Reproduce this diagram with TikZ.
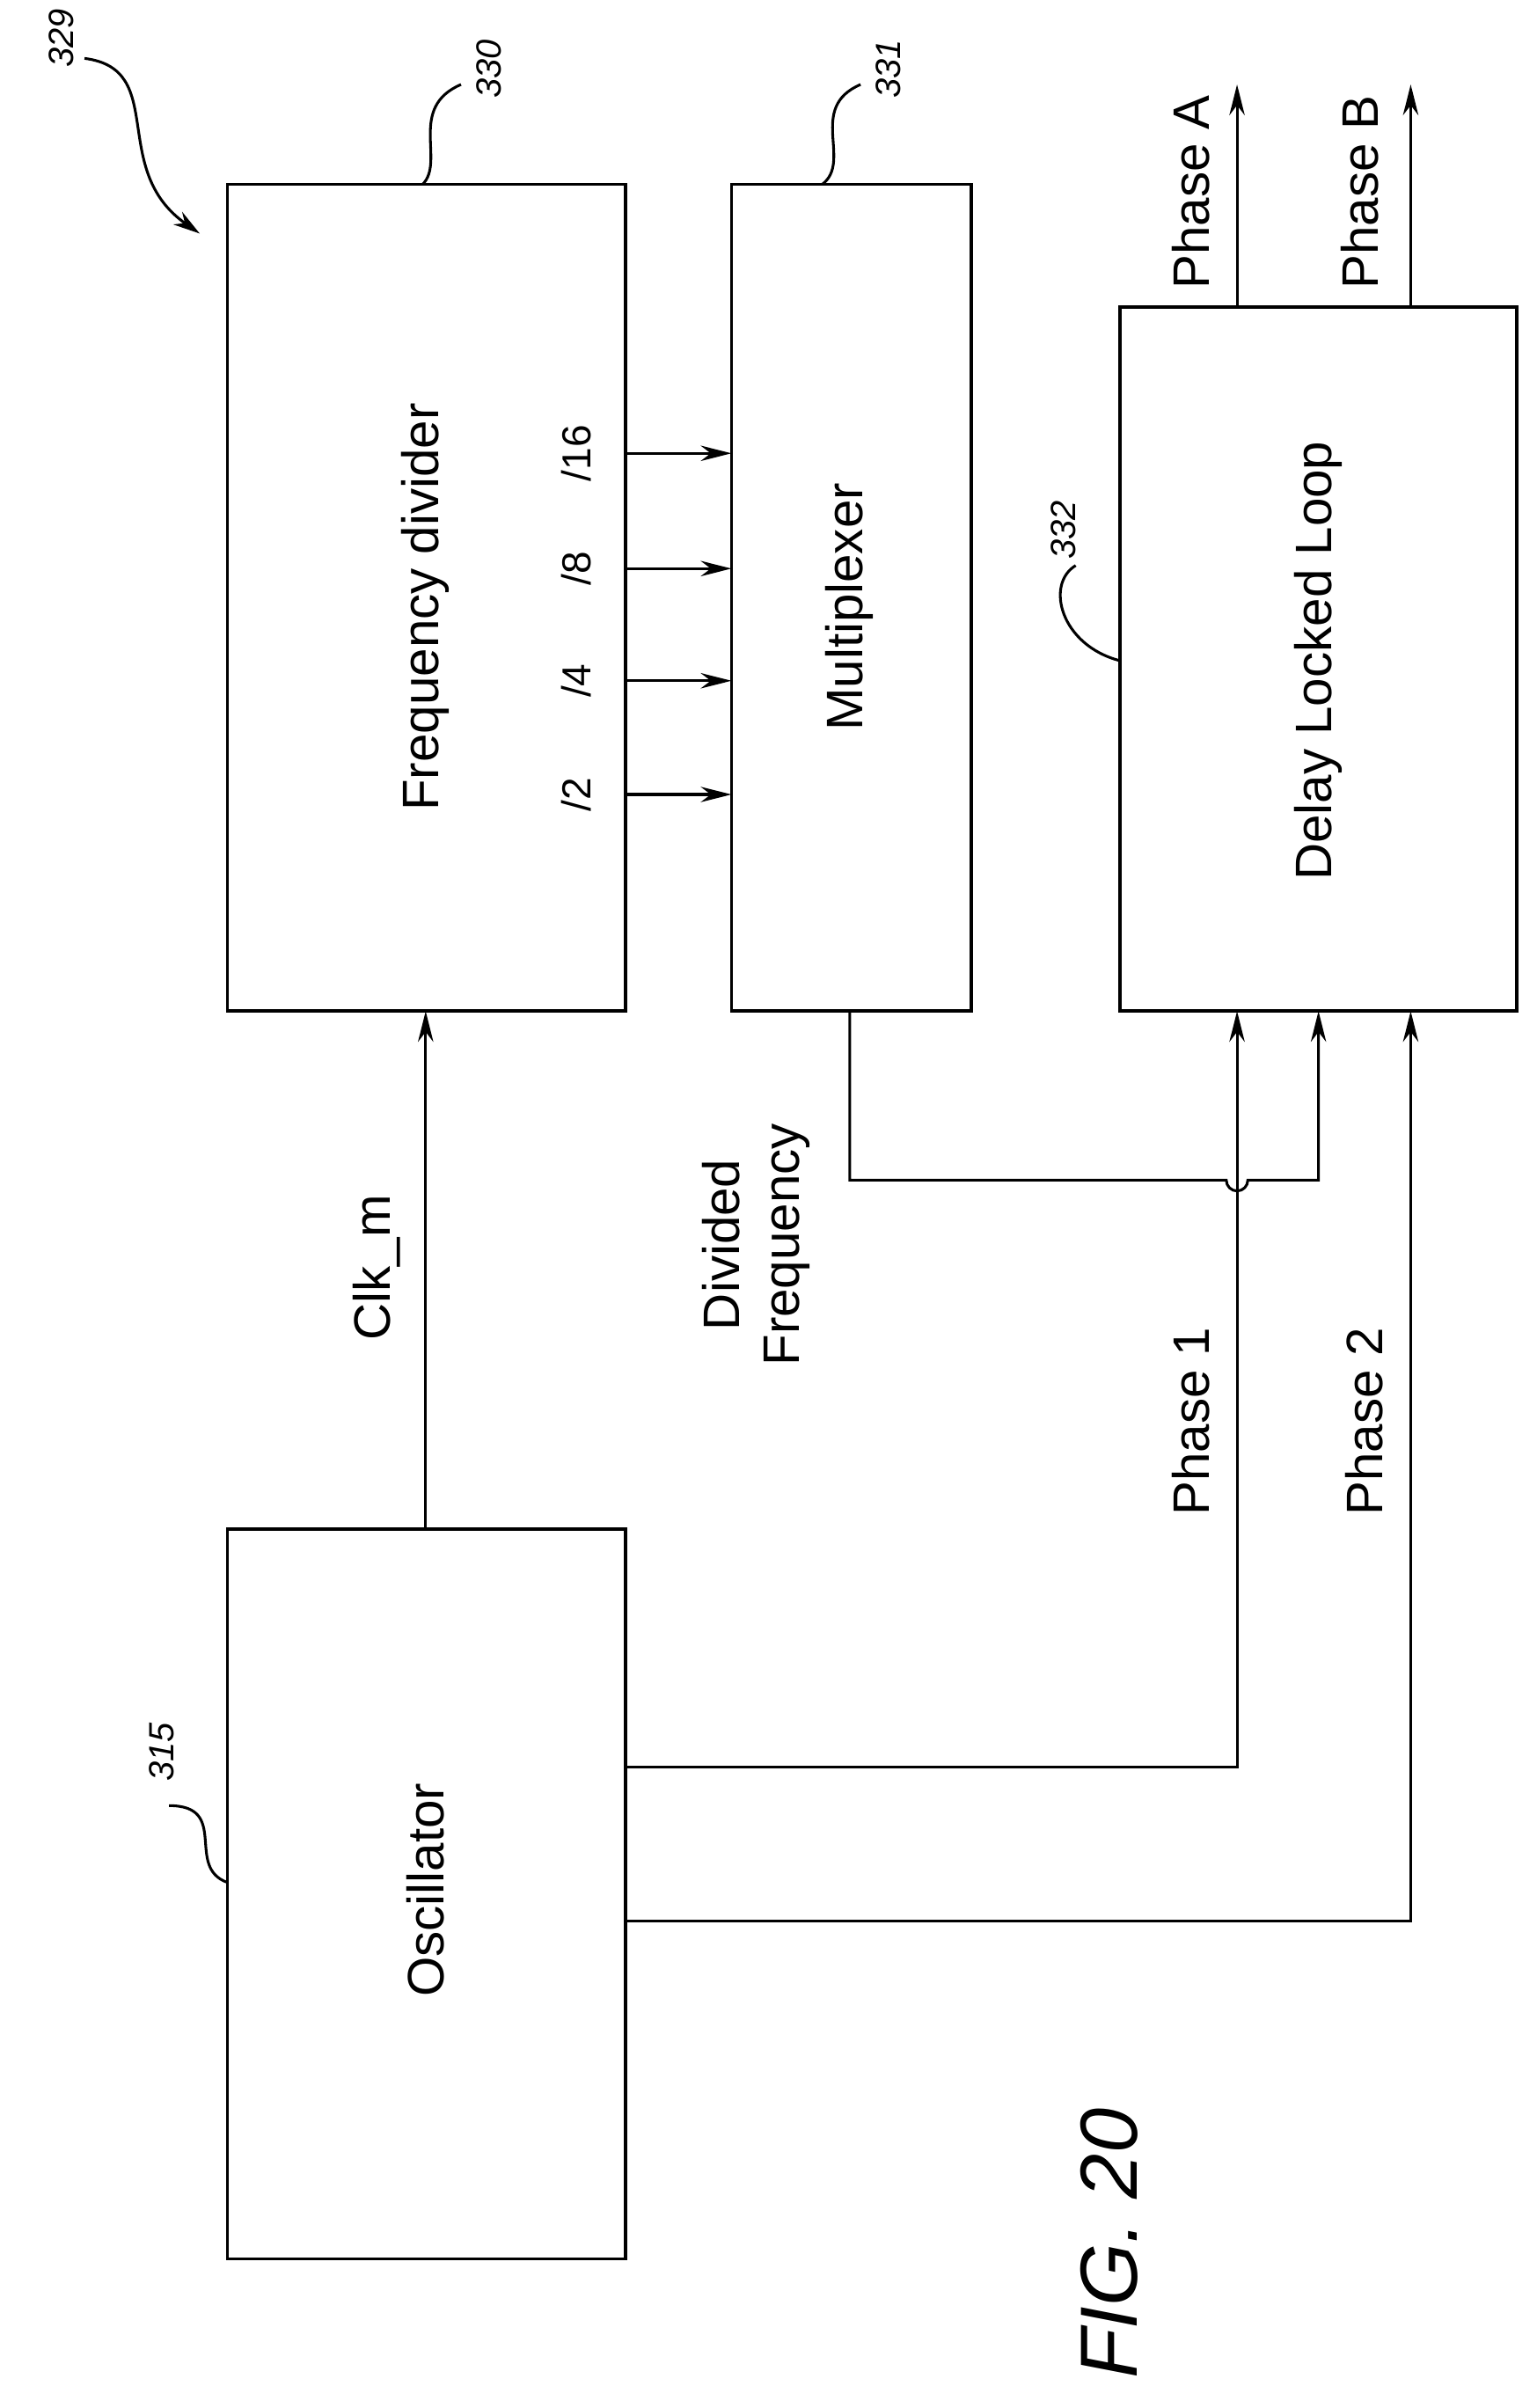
\documentclass[tikz,border=0pt]{standalone}
\usepackage{fontspec}
\setmainfont{Liberation Sans}
\usetikzlibrary{arrows.meta}
\tikzset{font={\fontsize{19pt}{22pt}\selectfont},
  blk/.style={draw,line width=1.2pt},
  sig/.style={line width=1pt,-{Stealth[length=4mm,width=2mm]}},
  lbl/.style={rotate=90},
  refn/.style={rotate=90,font={\fontsize{13pt}{15pt}\selectfont\itshape}}}
\begin{document}
\begin{tikzpicture}[x=0.02cm,y=-0.02cm]
      \useasboundingbox (0,0) rectangle (1000,1567);
      %blocks
      \draw[blk] (148,120) rectangle (407,658);
      \draw[blk] (476,120) rectangle (632,658);
      \draw[blk] (729,200) rectangle (987,658);
      \draw[blk] (148,995) rectangle (407,1470);
      \node[lbl] (fd) at (277,395) {Frequency divider};
      \node[lbl] (mux) at (553,395) {Multiplexer};
      \node[lbl] (dll) at (858,430) {Delay Locked Loop};
      \node[lbl] (osc) at (277,1230) {Oscillator};
      %divider outputs
      \foreach \y/\t in {295/{/16}, 370/{/8}, 443/{/4}, 517/{/2}} {
	\draw[sig] (407,\y) -- (476,\y);
	\node[lbl,font={\fontsize{15pt}{18pt}\selectfont}] at (375,\y) {\t};
      }
      %clock
      \draw[sig] (277,995) -- (277,658);
      \node[lbl] (clk) at (245,825) {Clk\_m};
      %phases out
      \draw[sig] (805,200) -- (805,55);
      \draw[sig] (918,200) -- (918,55);
      \node[lbl] (pa) at (775,125) {Phase A};
      \node[lbl] (pb) at (885,125) {Phase B};
      %phases in
      \draw[sig] (407,1150) -- (805,1150) -- (805,658);
      \draw[sig] (407,1250) -- (918,1250) -- (918,658);
      \node[lbl] (p1) at (775,925) {Phase 1};
      \node[lbl] (p2) at (888,925) {Phase 2};
      %divided frequency
      \draw[sig] (553,658) -- (553,768) -- (798,768) arc (180:0:7) -- (858,768) -- (858,658);
      \node[lbl,align=center] (df) at (492,810) {Divided\\Frequency};
      %reference numerals
      \node[refn] at (40,25) {329};
      \draw[line width=1pt,-{Stealth[length=3.5mm,width=2mm]}] (55,38) .. controls (110,45) and (70,110) .. (130,152);
      \node[refn] at (318,45) {330};
      \draw[line width=1pt] (300,55) .. controls (265,70) and (290,105) .. (275,120);
      \node[refn] at (578,45) {331};
      \draw[line width=1pt] (560,55) .. controls (525,70) and (555,105) .. (535,120);
      \node[refn] at (692,345) {332};
      \draw[line width=1pt] (700,368) .. controls (680,380) and (690,420) .. (729,430);
      \node[refn] at (105,1140) {315};
      \draw[line width=1pt] (110,1175) .. controls (150,1175) and (120,1215) .. (148,1225);
      \node[rotate=90,font={\fontsize{30pt}{34pt}\selectfont\itshape}] (fig) at (722,1460) {FIG. 20};
\end{tikzpicture}
\end{document}
